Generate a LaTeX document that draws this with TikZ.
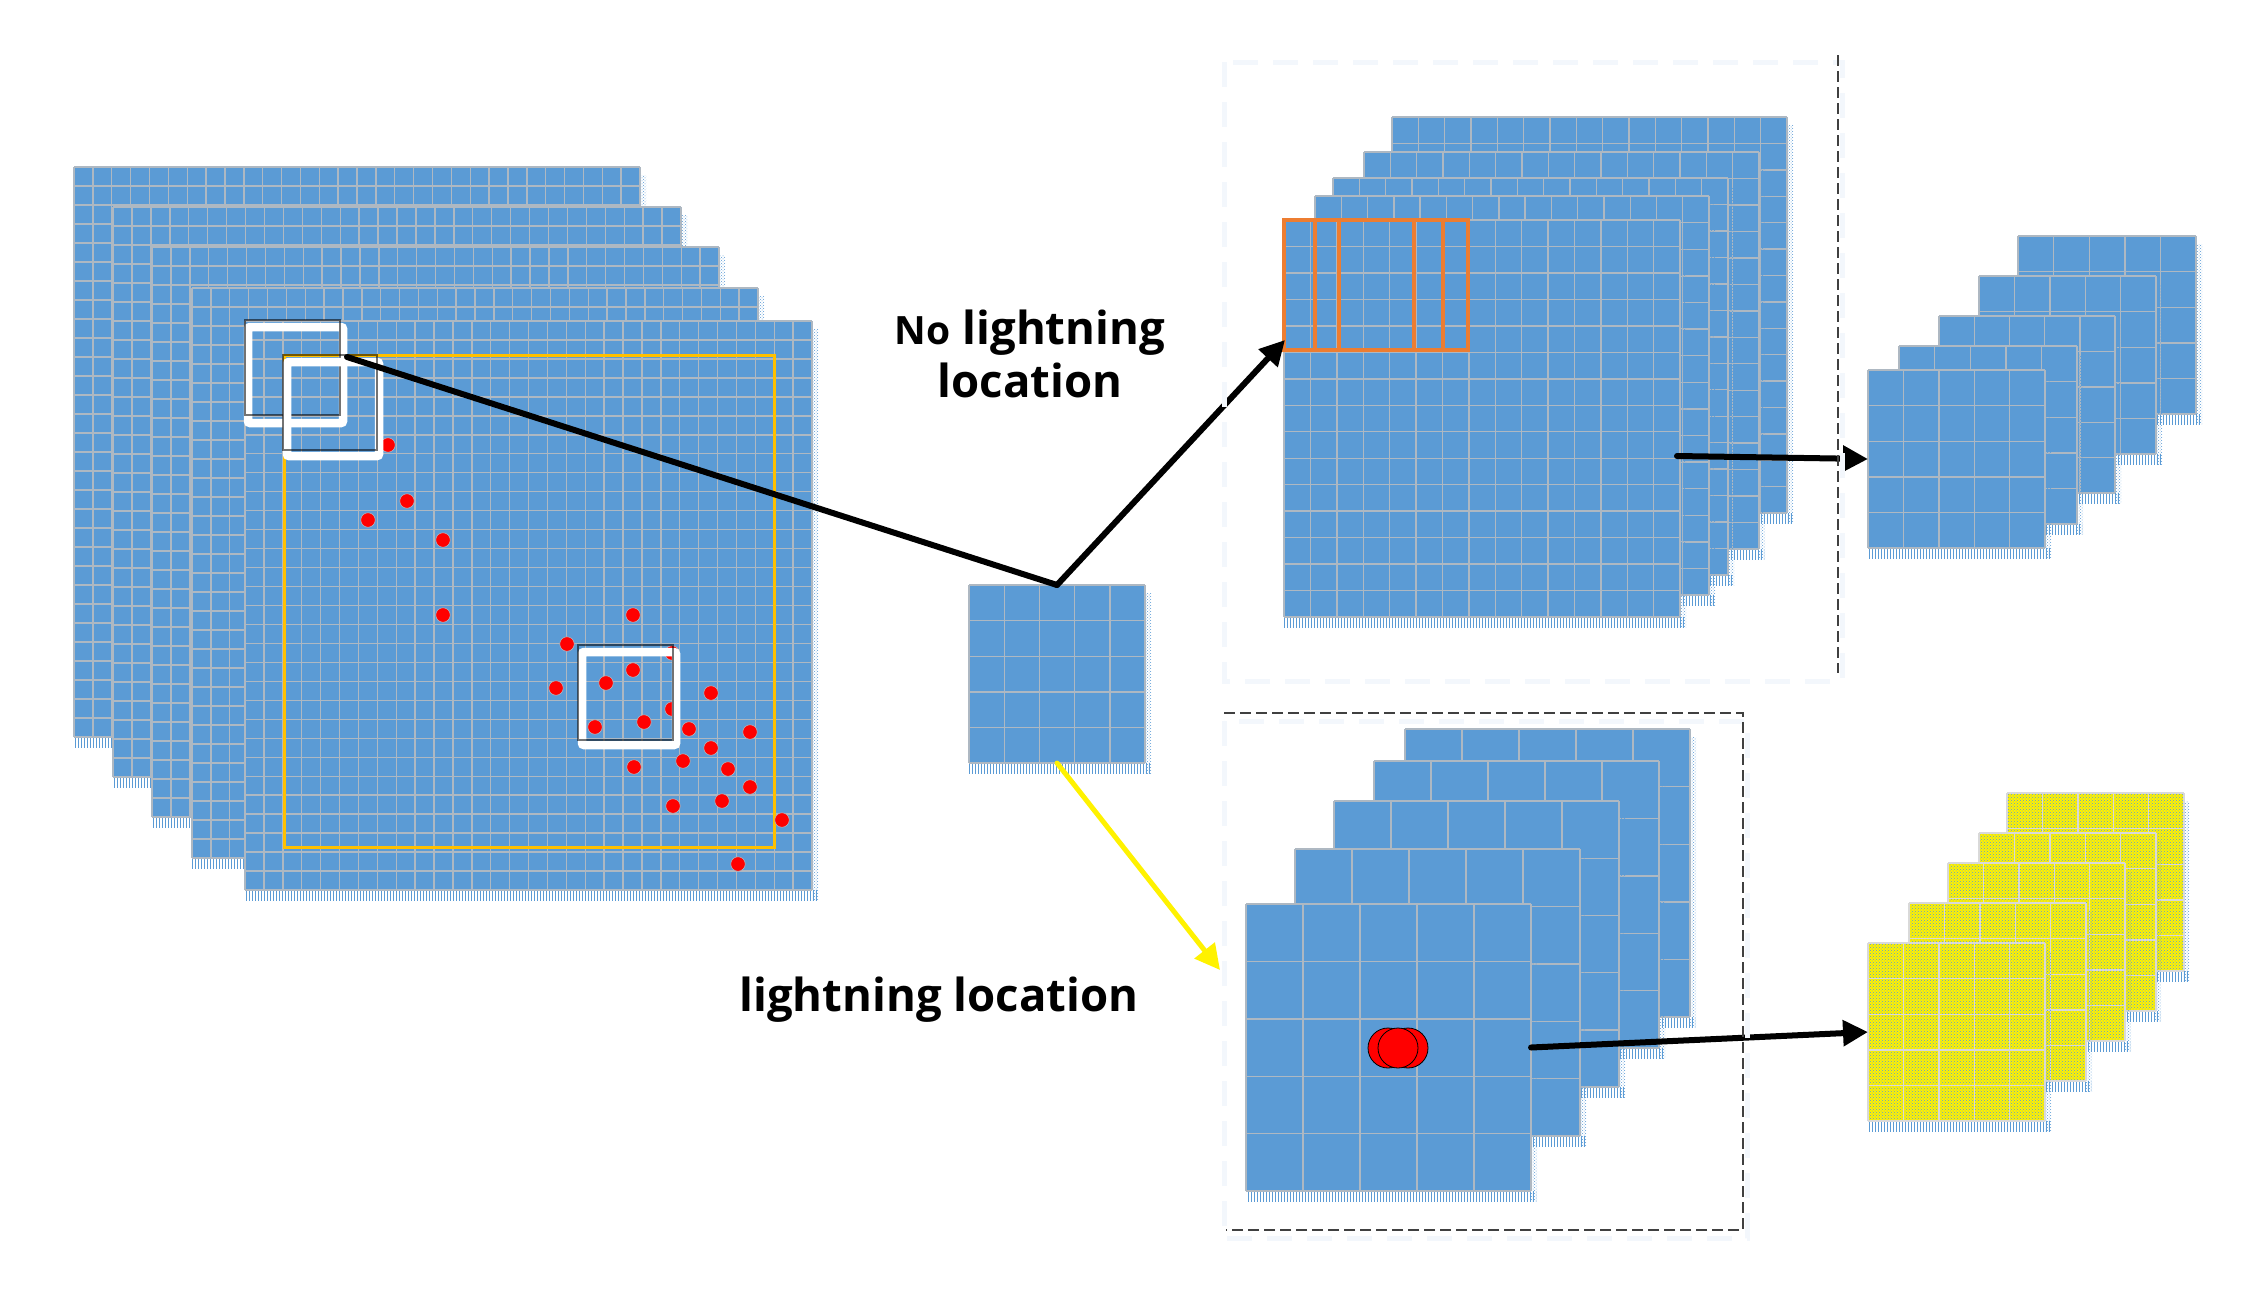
\documentclass[tikz,border=0pt]{standalone}
\usepackage{fontspec}
\setsansfont{Open Sans}
\usetikzlibrary{arrows.meta, patterns}
\definecolor{ccell}{HTML}{5B9BD5}
\definecolor{cline}{HTML}{AEB8C2}
\definecolor{cgold}{HTML}{FFC000}
\definecolor{corange}{HTML}{ED7D31}
\definecolor{cfaint}{HTML}{F3F7FC}
\definecolor{cdash}{HTML}{404040}
\tikzset{
  every picture/.style={font=\sffamily\bfseries, x=1pt, y=-1pt},
  layerbox/.style={fill=#1, inner sep=0pt, outer sep=0pt},
  layerbox/.default=ccell,
  shadowfill/.style={pattern=vertical lines, pattern color=ccell},
  shadowdots/.style={pattern=crosshatch dots, pattern color=ccell},
  gridline/.style={draw=cline, line width=1.4pt, step=1},
  arrow/.style={-{Triangle[length=25pt, width=25pt]}, line width=6pt, line cap=round},
  window/.style={draw=white, line width=8.5pt, rounded corners=2pt},
  windowedge/.style={draw=black, opacity=0.55, line width=1.5pt},
  spot/.style={circle, fill=red, draw=cline, line width=0.6pt, inner sep=0pt, minimum size=14.5pt},
  bigspot/.style={circle, fill=red, draw=black, line width=0.8pt, inner sep=0pt, minimum size=40pt},
  faintbox/.style={draw=cfaint, line width=5pt, dash pattern=on 25pt off 15pt},
  darkdash/.style={draw=cdash, line width=1.2pt, dash pattern=on 11pt off 5pt},
  label/.style={font=\sffamily\bfseries\fontsize{45.5}{53}\selectfont, align=center, inner sep=0pt},
}
% name, left, top, right, bottom, cells
\newcommand{\gridlayer}[6]{
  \fill[shadowdots] (#4,#3+8) rectangle (#4+6,#5+10);
  \fill[shadowfill] (#2,#5) rectangle (#4+5,#5+10);
  \pgfmathsetmacro{\lw}{#4-#2}
  \pgfmathsetmacro{\lh}{#5-#3}
  \node[layerbox, minimum width=\lw pt, minimum height=\lh pt] (#1) at ({(#2+#4)/2},{(#3+#5)/2}) {};
  \begin{scope}[shift={(#2,#5)}, x=\lw pt/#6, y=\lh pt/#6]
    \draw[gridline] (0,0) grid (#6,#6);
  \end{scope}
}
\begin{document}
\begin{tikzpicture}
  \useasboundingbox (0,0) rectangle (2264,1288);
  % big stack
  \foreach \lname/\xa/\ya/\xb/\yb in {bigA/74/167/640/737, bigB/113/207/681/777, bigC/152/247/719/817, bigD/192/288/758/858, bigE/245/321/812/890}
    {\gridlayer{\lname}{\xa}{\ya}{\xb}{\yb}{30}}
  \draw[cgold, line width=3pt] (284,355) rectangle (774,847);
  \foreach \sx/\sy [count=\i] in {388/445, 407/501, 368/520, 443/540, 443/615, 633/615, 567/644, 556/688, 606/683, 633/670, 595/727, 644/722, 672/653, 672/709, 711/693, 689/729, 750/732, 711/748, 683/761, 634/767, 728/769, 750/787, 722/801, 673/806, 782/820, 738/864}
    {\node[spot] (spot\i) at (\sx,\sy) {};}
  % sliding windows
  \draw[window] (248,327) rectangle (343,423);
  \draw[windowedge] (245,320) rectangle (340,415);
  \draw[window] (287,362) rectangle (379,456);
  \draw[windowedge] (283,355) rectangle (377,450);
  \draw[window] (582,652) rectangle (676,745);
  \draw[windowedge] (578,645) rectangle (673,740);
  % cut-out patch
  \gridlayer{patch}{969}{585}{1145}{763}{5}
  % upper stack
  \foreach \lname/\xa/\ya/\xb/\yb in {upA/1392/117/1787/513, upB/1364/152/1759/549, upC/1333/178/1728/575, upD/1315/196/1709/595, upE/1284/220/1680/617}
    {\gridlayer{\lname}{\xa}{\ya}{\xb}{\yb}{15}}
  \draw[corange, line width=3.5pt] (1284,220) rectangle (1468,350);
  \foreach \vx in {1315,1339,1414,1443}
    {\draw[corange, line width=3.5pt] (\vx,220) -- (\vx,350);}
  % lower stack
  \foreach \lname/\xa/\ya/\xb/\yb in {lowA/1405/729/1690/1017, lowB/1374/761/1659/1048, lowC/1334/801/1619/1087, lowD/1295/849/1580/1136, lowE/1246/904/1531/1191}
    {\gridlayer{\lname}{\xa}{\ya}{\xb}{\yb}{5}}
  \node[bigspot] (hitA) at (1388,1048) {};
  \node[bigspot] (hitB) at (1408,1048) {};
  \node[bigspot] (hitC) at (1398,1048) {};
  % output stacks
  \foreach \lname/\xa/\ya/\xb/\yb in {outA/2018/236/2196/414, outB/1979/276/2156/454, outC/1939/316/2115/493, outD/1899/346/2077/524, outE/1868/370/2045/548}
    {\gridlayer{\lname}{\xa}{\ya}{\xb}{\yb}{5}}
  \foreach \lname/\xa/\ya/\xb/\yb in {hotA/2007/793/2183/971, hotB/1979/833/2155/1011, hotC/1948/864/2125/1041, hotD/1909/903/2086/1081, hotE/1868/943/2045/1121}
    {\gridlayer{\lname}{\xa}{\ya}{\xb}{\yb}{5}
     \fill[yellow] (\lname.north west) rectangle (\lname.south east);
     \fill[pattern=crosshatch dots, pattern color=ccell] (\lname.north west) rectangle (\lname.south east);
     \begin{scope}[shift={(\xa,\yb)}, x=35.4pt, y=35.6pt]
       \draw[gridline, draw=black!15] (0,0) grid (5,5);
     \end{scope}}
  % connectors
  \coordinate (winend) at (347,357);
  \coordinate (orangetip) at (1285,340);
  \coordinate (upstart) at (1677,456);
  \coordinate (lowtip) at (1220,970);
  \draw[line width=6pt, line cap=round] (winend) -- (patch.north);
  \draw[arrow] (patch.north) -- (orangetip);
  \draw[arrow] (upstart) -- (outE.west);
  \draw[arrow] (lowE.east) -- (hotE.west);
  \draw[arrow, yellow, line width=5pt] (patch.south) -- (lowtip);
  % dashed frames
  \draw[faintbox] (1224,62) rectangle (1842,681);
  \draw[darkdash] (1838,55) -- (1838,673);
  \draw[faintbox] (1224,721) rectangle (1747,1238);
  \draw[darkdash] (1224,713) -- (1743,713) -- (1743,1230) -- (1226,1230);
  % labels
  \node[label] (nolabel) at (1030,354) {{\fontsize{39}{53}\selectfont No} lightning\\location};
  \node[label] (yeslabel) at (939,1000) {lightning location};
\end{tikzpicture}
\end{document}
